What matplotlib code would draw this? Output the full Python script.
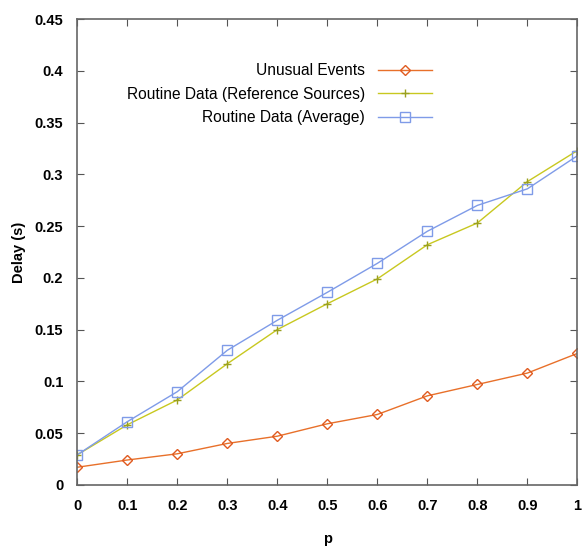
import matplotlib
matplotlib.use('Agg')
import matplotlib.pyplot as plt

# data
p = [0, 0.1, 0.2, 0.3, 0.4, 0.5, 0.6, 0.7, 0.8, 0.9, 1.0]
unusual = [0.017, 0.024, 0.030, 0.040, 0.047, 0.059, 0.068, 0.086, 0.097, 0.108, 0.127]
routine_ref = [0.029, 0.058, 0.082, 0.117, 0.150, 0.175, 0.199, 0.232, 0.253, 0.293, 0.323]
routine_avg = [0.029, 0.061, 0.090, 0.130, 0.159, 0.186, 0.214, 0.245, 0.270, 0.286, 0.318]

xticks = [0, 0.1, 0.2, 0.3, 0.4, 0.5, 0.6, 0.7, 0.8, 0.9, 1]
xtick_labels = ['0', '0.1', '0.2', '0.3', '0.4', '0.5', '0.6', '0.7', '0.8', '0.9', '1']
yticks = [0, 0.05, 0.1, 0.15, 0.2, 0.25, 0.3, 0.35, 0.4, 0.45]
ytick_labels = ['0', '0.05', '0.1', '0.15', '0.2', '0.25', '0.3', '0.35', '0.4', '0.45']

plt.rcParams['font.family'] = ['Liberation Sans', 'DejaVu Sans']
plt.rcParams['font.weight'] = 'bold'

fig = plt.figure(figsize=(5.85, 5.46), dpi=100)
ax = fig.add_axes([0.132, 0.112, 0.855, 0.853])

ax.plot(p, unusual, color='#e8702a', lw=1.0, marker='D', ms=5.5, mfc='none',
        mec='#e05a20', mew=1.0, label='Unusual Events')
ax.plot(p, routine_ref, color='#c8c820', lw=1.0, marker='+', ms=6,
        mec='#9aa020', mew=1.0, label='Routine Data (Reference Sources)')
ax.plot(p, routine_avg, color='#7f9be8', lw=1.0, marker='s', ms=6.5, mfc='none',
        mec='#7f9be8', mew=1.0, label='Routine Data (Average)')

ax.set_xlim(0, 1)
ax.set_ylim(0, 0.45)
ax.set_xticks(xticks)
ax.set_xticklabels(xtick_labels)
ax.set_yticks(yticks)
ax.set_yticklabels(ytick_labels)
ax.tick_params(direction='in', top=True, right=True, length=5, labelsize=10.5,
               color='#555555', pad=10)
for s in ax.spines.values():
    s.set_color('#666666')
    s.set_linewidth(1.2)

ax.set_xlabel('p', fontsize=10.5, fontweight='bold', labelpad=14)
ax.set_ylabel('Delay (s)', fontsize=10.5, fontweight='bold', labelpad=6)

leg = ax.legend(loc='upper right', bbox_to_anchor=(0.722, 0.919), frameon=False,
                markerfirst=False, fontsize=11.2, handlelength=3.5,
                labelspacing=0.55, borderaxespad=0)
for t in leg.get_texts():
    t.set_ha('right')
    t.set_fontweight('normal')
leg._legend_box.align = 'right'

plt.savefig('out.png', dpi=100)
